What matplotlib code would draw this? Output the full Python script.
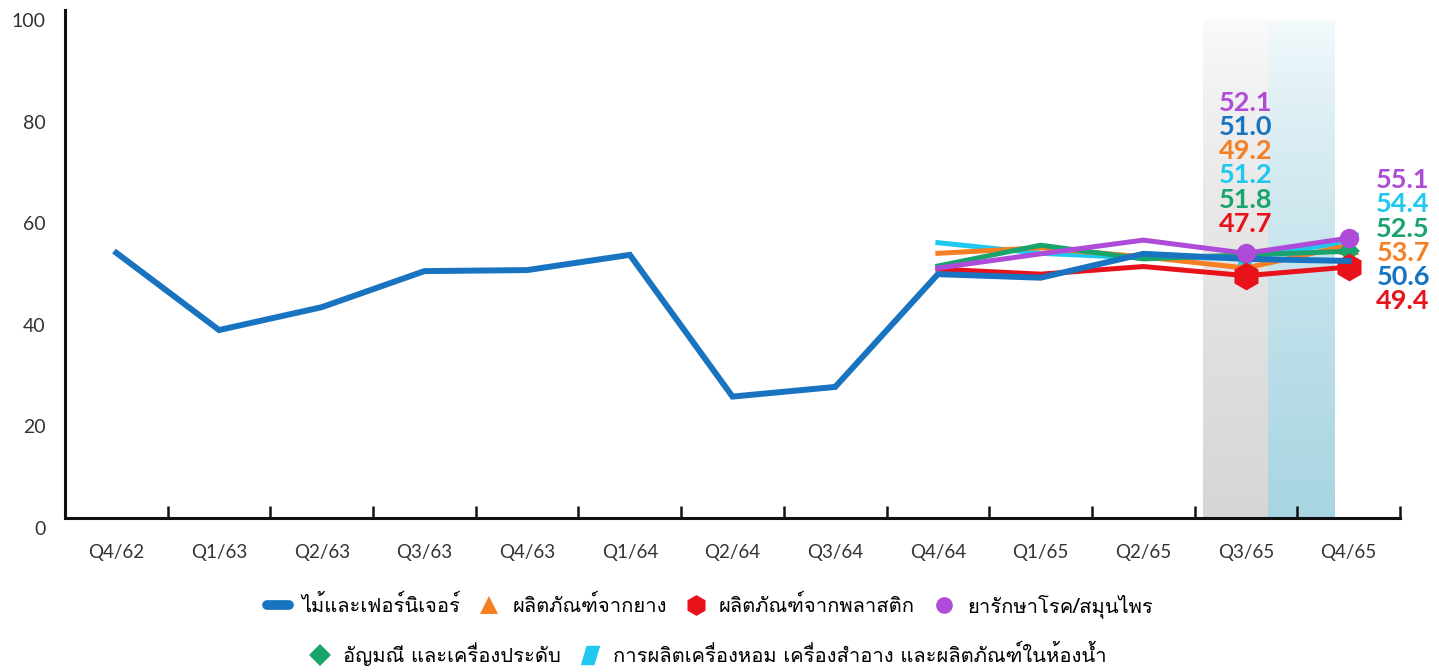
import matplotlib
matplotlib.use("Agg")
import matplotlib.pyplot as plt
import matplotlib.font_manager as fm
from matplotlib.ft2font import FT2Font
from matplotlib.path import Path
from matplotlib.lines import Line2D
from matplotlib.colors import LinearSegmentedColormap
import matplotlib.transforms as mtransforms
import numpy as np

# ---------------- data ----------------
quarters = ["Q4/62", "Q1/63", "Q2/63", "Q3/63", "Q4/63", "Q1/64", "Q2/64",
            "Q3/64", "Q4/64", "Q1/65", "Q2/65", "Q3/65", "Q4/65"]

wood = [52.2, 37.0, 41.5, 48.6, 48.8, 51.8, 23.9, 25.8, 48.0, 47.3, 52.0, 51.0, 50.6]
# series beginning at Q4/64
rubber = [52.1, 53.2, 51.4, 49.2, 53.7]
plastic = [49.0, 48.0, 49.5, 47.7, 49.4]
herbal = [49.2, 52.0, 54.7, 52.1, 55.1]
jewelry = [49.6, 53.7, 51.0, 51.8, 52.5]
cosmetics = [54.2, 52.1, 51.2, 51.2, 54.4]

names = ["ไม้และเฟอร์นิเจอร์", "ผลิตภัณฑ์จากยาง", "ผลิตภัณฑ์จากพลาสติก", "ยารักษาโรค/สมุนไพร",
         "อัญมณี และเครื่องประดับ", "การผลิตเครื่องหอม เครื่องสำอาง และผลิตภัณฑ์ในห้องน้ำ"]

colors = {"wood": "#1874C0", "rubber": "#F57F22", "plastic": "#E8121B",
          "herbal": "#AE4BD8", "jewelry": "#1AA46D", "cosmetics": "#1EC8F0"}

# label stacks (order as shown in chart)
q3_order = ["herbal", "wood", "rubber", "cosmetics", "jewelry", "plastic"]
q4_order = ["herbal", "cosmetics", "jewelry", "rubber", "wood", "plastic"]

# ---------------- fonts ----------------
thai_font = None
for f in fm.fontManager.ttflist:
    try:
        if 0x0E1F in FT2Font(f.fname).get_charmap():
            thai_font = f.name
            break
    except Exception:
        pass
legend_family = [thai_font, "DejaVu Sans"] if thai_font else ["DejaVu Sans"]
num_family = ["Lato", "DejaVu Sans"]

plt.rcParams["font.family"] = num_family

fig = plt.figure(figsize=(14.39, 6.72), dpi=100)
ax = fig.add_axes([65 / 1439, 1 - 518 / 672, (1400 - 65) / 1439, 508 / 672])

x_all = np.arange(len(quarters))
x_new = x_all[8:]

ax.set_xlim(-0.5, len(quarters) - 0.5)
ax.set_ylim(0, 100)

# shaded gradients
def grad(c0, c1):
    return LinearSegmentedColormap.from_list("g", [c0, c1])

g = np.linspace(0, 1, 256).reshape(-1, 1) ** 0.7
ax.imshow(g, cmap=grad("#fbfbfb", "#d6d6d6"), extent=(10.58, 11.21, 0, 98),
          aspect="auto", origin="upper", zorder=0, interpolation="bilinear")
ax.imshow(g, cmap=grad("#f6fbfd", "#a8d5e2"), extent=(11.21, 11.86, 0, 98),
          aspect="auto", origin="upper", zorder=0, interpolation="bilinear")

# parallelogram marker (slanted like "/")
para = Path([(-0.5, -0.5), (0.2, -0.5), (0.5, 0.5), (-0.2, 0.5), (-0.5, -0.5)],
            [Path.MOVETO, Path.LINETO, Path.LINETO, Path.LINETO, Path.CLOSEPOLY])

series = {"wood": wood, "rubber": rubber, "plastic": plastic, "herbal": herbal,
          "jewelry": jewelry, "cosmetics": cosmetics}
markers = {"rubber": ("^", 14), "plastic": ("h", 20), "herbal": ("o", 14),
           "jewelry": ("D", 11), "cosmetics": (para, 14)}

draw_order = ["cosmetics", "rubber", "jewelry", "plastic", "wood", "herbal"]
for z, key in enumerate(draw_order):
    if key == "wood":
        ax.plot(x_all, wood, color=colors[key], lw=4.3, zorder=3 + z,
                solid_joinstyle="miter")
    else:
        m, ms = markers[key]
        ax.plot(x_new, series[key], color=colors[key], lw=3.6, zorder=3 + z,
                marker=m, markersize=ms, markevery=[3, 4], markeredgewidth=0)

# value label stacks
def stack(order, xpos, top_val, idx):
    for i, key in enumerate(order):
        v = series[key][idx]
        ax.annotate(f"{v:.1f}", xy=(xpos, top_val), xytext=(0, -i * 17.4),
                    textcoords="offset points", ha="center", va="center",
                    fontsize=19.5, fontweight="bold", color=colors[key],
                    annotation_clip=False, zorder=20)

stack(q3_order, 11.0, 81.7, -2)
stack(q4_order, 12.53, 66.5, -1)

# axes styling
for s in ["top", "right"]:
    ax.spines[s].set_visible(False)
for s in ["left", "bottom"]:
    ax.spines[s].set_linewidth(2.2)
    ax.spines[s].set_color("#111111")

ax.set_xticks(np.arange(0.5, len(quarters), 1.0))
ax.set_xticklabels([])
ax.tick_params(axis="x", which="major", direction="in", length=9, width=1.8,
               color="#111111")
ax.set_xticks(x_all, minor=True)
ax.set_xticklabels(quarters, minor=True)
ax.tick_params(axis="x", which="minor", length=0, pad=19, labelsize=13.5,
               labelcolor="#333333")

ax.set_yticks([0, 20, 40, 60, 80, 100])
ax.tick_params(axis="y", which="major", length=0, pad=14, labelsize=14,
               labelcolor="#333333")
ax.set_yticks([20, 80, 100], minor=True)
ax.tick_params(axis="y", which="minor", direction="in", length=24, width=1.8,
               color="#111111")
off = mtransforms.ScaledTranslation(0, -10 / 100, fig.dpi_scale_trans)
for lab in ax.get_yticklabels():
    lab.set_transform(lab.get_transform() + off)

# legend
def h_line(c):
    return Line2D([], [], color=c, lw=7, solid_capstyle="round")

def h_mark(m, c, ms):
    return Line2D([], [], color=c, lw=0, marker=m, markersize=ms, markeredgewidth=0)

row1 = [h_line(colors["wood"]), h_mark("^", colors["rubber"], 13),
        h_mark("h", colors["plastic"], 15), h_mark("o", colors["herbal"], 12)]
row2 = [h_mark("D", colors["jewelry"], 11), h_mark(para, colors["cosmetics"], 14)]

lp = dict(frameon=False, prop={"family": legend_family, "size": 14.5},
          handlelength=1.1, handletextpad=0.6, columnspacing=0.9, loc="center")
fig.legend(row1, names[:4], ncol=4, bbox_to_anchor=(710 / 1439, 1 - 606 / 672), **lp)
fig.legend(row2, names[4:], ncol=2, bbox_to_anchor=(708 / 1439, 1 - 654 / 672), **lp)

fig.savefig("out.png", dpi=100)
